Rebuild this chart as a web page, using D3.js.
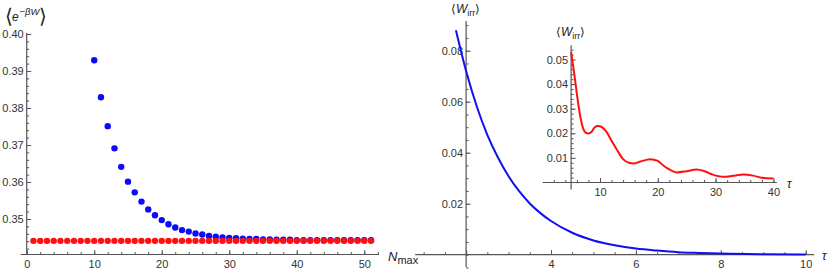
<!DOCTYPE html>
<html>
<head>
<meta charset="utf-8">
<script src="https://cdn.jsdelivr.net/npm/d3@7"></script>
<style>
  body { margin: 0; background: #fff; }
  svg { display: block; font-family: "Liberation Sans", Arial, sans-serif; }
  .tick text { fill: #333; font-size: 11px; }
  .tick line { stroke: #555; }
  .axisline { stroke: #555; stroke-width: 1.2; }
</style>
</head>
<body>
<svg id="chart" width="830" height="271"></svg>
<script>
// left panel: <e^-bW> against N_max
const nBlue = [10, 11, 12, 13, 14, 15, 16, 17, 18, 19, 20, 21, 22, 23, 24, 25, 26, 27, 28, 29, 30,
  31, 32, 33, 34, 35, 36, 37, 38, 39, 40, 41, 42, 43, 44, 45, 46, 47, 48, 49, 50, 51];
const blueVals = [0.3929, 0.3829, 0.3751, 0.3691, 0.3641, 0.3601, 0.3572, 0.3547, 0.3526, 0.3510,
  0.3497, 0.3486, 0.3477, 0.3470, 0.3466, 0.3461, 0.3458, 0.3454, 0.3452, 0.3450, 0.3449,
  0.3448, 0.3447, 0.3446, 0.3446, 0.3445, 0.3445, 0.3444, 0.3444, 0.3444, 0.3443,
  0.3443, 0.3443, 0.3443, 0.3443, 0.3443, 0.3443, 0.3443, 0.3443, 0.3443, 0.3443, 0.3443];
const nRed = [1, 2, 3, 4, 5, 6, 7, 8, 9, 10, 11, 12, 13, 14, 15, 16, 17, 18, 19, 20, 21, 22, 23, 24, 25,
  26, 27, 28, 29, 30, 31, 32, 33, 34, 35, 36, 37, 38, 39, 40, 41, 42, 43, 44, 45, 46, 47, 48, 49, 50, 51];
const redVals = [0.3441, 0.3441, 0.3441, 0.3441, 0.3441, 0.3441, 0.3441, 0.3441, 0.3441, 0.3441,
  0.3441, 0.3441, 0.3441, 0.3441, 0.3441, 0.3441, 0.3441, 0.3441, 0.3441, 0.3441,
  0.3441, 0.3441, 0.3441, 0.3441, 0.3441, 0.3441, 0.3441, 0.3441, 0.3441, 0.3441,
  0.3441, 0.3441, 0.3441, 0.3441, 0.3441, 0.3441, 0.3441, 0.3441, 0.3441, 0.3441,
  0.3441, 0.3441, 0.3441, 0.3441, 0.3441, 0.3441, 0.3441, 0.3441, 0.3441, 0.3441, 0.3441];
const leftXTicks = [0, 10, 20, 30, 40, 50];
const leftYTicks = [0.35, 0.36, 0.37, 0.38, 0.39, 0.40];

// right panel: <W_irr> against tau
const tauMain = [1.76, 2.0, 2.25, 2.5, 2.75, 3.0, 3.25, 3.5, 3.75, 4.0, 4.5, 5.0, 5.5, 6.0, 6.5,
  7.0, 7.5, 8.0, 9.0, 10.0];
const wMain = [0.0880, 0.0720, 0.0582, 0.0470, 0.0381, 0.0308, 0.0249, 0.0201, 0.0163, 0.0132,
  0.0086, 0.0056, 0.0037, 0.0024, 0.0016, 0.0010, 0.0007, 0.00045, 0.0002, 0.0001];
const rightXTicks = [4, 6, 8, 10];
const rightYTicks = [0.02, 0.04, 0.06, 0.08];

// inset
const tauInset = [5, 5.5, 6, 6.5, 7, 7.5, 8, 8.5, 9, 9.5, 10, 10.5, 11, 12, 13, 14, 15, 15.8, 17, 18.7,
  20, 21, 22, 23.3, 25, 26.7, 28, 29.5, 31.3, 33, 34.8, 36.5, 38, 40];
const wInset = [0.053, 0.045, 0.036, 0.028, 0.0225, 0.0203, 0.0199, 0.0205, 0.0222, 0.023, 0.0229,
  0.0222, 0.021, 0.017, 0.013, 0.0095, 0.008, 0.0077, 0.0085, 0.0095, 0.0088, 0.0068, 0.0053,
  0.0041, 0.0046, 0.0053, 0.0047, 0.0032, 0.0023, 0.0027, 0.0033, 0.0028, 0.0019, 0.0016];
const insetXTicks = [10, 20, 30, 40];
const insetYTicks = [0.01, 0.02, 0.03, 0.04, 0.05];

const svg = d3.select("#chart");

function drawAxes(g, x, y, o) {
  // axis lines
  g.append("line").attr("class", "axisline")
    .attr("x1", x(o.xLo)).attr("x2", x(o.xHi)).attr("y1", y(o.yAt)).attr("y2", y(o.yAt));
  g.append("line").attr("class", "axisline")
    .attr("x1", x(o.xAt)).attr("x2", x(o.xAt)).attr("y1", y(o.yLo)).attr("y2", y(o.yHi));

  // minor ticks
  g.append("g").attr("transform", "translate(0," + y(o.yAt) + ")")
    .call(d3.axisBottom(x).tickValues(o.xMinor).tickSize(-2.5).tickFormat(""))
    .call(a => a.select(".domain").remove());
  g.append("g").attr("transform", "translate(" + x(o.xAt) + ",0)")
    .call(d3.axisLeft(y).tickValues(o.yMinor).tickSize(-2.5).tickFormat(""))
    .call(a => a.select(".domain").remove());

  // major ticks with labels
  g.append("g").attr("transform", "translate(0," + y(o.yAt) + ")")
    .call(d3.axisBottom(x).tickValues(o.xMajor).tickSize(-4.5).tickPadding(6).tickFormat(o.xFmt))
    .call(a => a.select(".domain").remove());
  g.append("g").attr("transform", "translate(" + x(o.xAt) + ",0)")
    .call(d3.axisLeft(y).tickValues(o.yMajor).tickSize(-4.5).tickPadding(3).tickFormat(o.yFmt))
    .call(a => a.select(".domain").remove());
}

function steps(a, b, s) {
  let out = [];
  for (let v = a; v <= b + 1e-9; v += s) out.push(+v.toFixed(6));
  return out;
}

// ---------- left panel ----------
let xL = d3.scaleLinear().domain([0, 50]).range([26.7, 364.3]);
let yL = d3.scaleLinear().domain([0.35, 0.40]).range([219, 34]);
let gL = svg.append("g");

drawAxes(gL, xL, yL, {
  xLo: -0.9, xHi: 52.2, yAt: 0.3404, xAt: 0, yLo: 0.3404, yHi: 0.4003,
  xMinor: steps(0, 52, 2), yMinor: steps(0.342, 0.4, 0.002),
  xMajor: leftXTicks, yMajor: leftYTicks,
  xFmt: d3.format("d"), yFmt: d3.format(".2f")
});

gL.selectAll(".bdot")
  .data(blueVals)
  .enter().append("circle")
  .attr("class", "bdot")
  .attr("cx", (d, i) => xL(nBlue[i]))
  .attr("cy", d => yL(d))
  .attr("r", 3.2)
  .style("fill", "#0a0aff");

gL.selectAll(".rdot")
  .data(redVals)
  .enter().append("circle")
  .attr("class", "rdot")
  .attr("cx", (d, i) => xL(nRed[i]))
  .attr("cy", d => yL(d))
  .attr("r", 3.2)
  .style("fill", "#ff1010");

// y label <e^{-bW}>
let ly = svg.append("text").attr("fill", "#222").attr("font-family", "'DejaVu Sans', sans-serif");
ly.append("tspan").attr("x", 5).attr("y", 23).attr("font-size", 20).attr("font-weight", 200).text("\u27E8");
ly.append("tspan").attr("x", 12).attr("y", 21).attr("font-size", 12).attr("font-style", "italic")
  .attr("font-family", "'Liberation Sans', Arial, sans-serif").text("e");
ly.append("tspan").attr("x", 19.5).attr("y", 15).attr("font-size", 9.5).attr("font-style", "italic")
  .attr("font-family", "'Liberation Sans', Arial, sans-serif").text("\u2212\u03B2W");
ly.append("tspan").attr("x", 39).attr("y", 23).attr("font-size", 20).attr("font-weight", 200).text("\u27E9");

// x label N_max
let lx = svg.append("text").attr("x", 388).attr("y", 261).attr("fill", "#222")
  .attr("font-family", "'Liberation Sans', Arial, sans-serif");
lx.append("tspan").attr("font-size", 13).attr("font-style", "italic").text("N");
lx.append("tspan").attr("font-size", 11).attr("dy", 3).text("max");

// ---------- right panel ----------
let xR = d3.scaleLinear().domain([4, 10]).range([551, 805.7]);
let yR = d3.scaleLinear().domain([0, 0.08]).range([254.7, 50.7]);
let gR = svg.append("g");

drawAxes(gR, xR, yR, {
  xLo: 0.8, xHi: 10.2, yAt: 0, xAt: 2, yLo: -0.0048, yHi: 0.0916,
  xMinor: steps(1, 10, 0.5), yMinor: steps(-0.005, 0.09, 0.005),
  xMajor: [2].concat(rightXTicks), yMajor: rightYTicks,
  xFmt: d => d === 2 ? "" : d3.format("d")(d), yFmt: d3.format(".2f")
});

gR.append("path")
  .datum(wMain)
  .attr("d", d3.line().x((d, i) => xR(tauMain[i])).y(d => yR(d)).curve(d3.curveMonotoneX))
  .attr("fill", "none")
  .attr("stroke", "#1010ee")
  .attr("stroke-width", 2);

let lr = svg.append("text").attr("x", 451).attr("y", 13).attr("fill", "#222")
  .attr("font-family", "'Liberation Sans', Arial, sans-serif").attr("font-size", 12);
lr.append("tspan").text("\u27E8");
lr.append("tspan").attr("font-style", "italic").text("W");
lr.append("tspan").attr("font-size", 9).attr("dy", 3).text("irr");
lr.append("tspan").attr("dy", -3).text("\u27E9");

svg.append("text").attr("x", 822).attr("y", 260).attr("fill", "#222")
  .attr("font-family", "'Liberation Sans', Arial, sans-serif").attr("font-size", 12)
  .attr("font-style", "italic").text("\u03C4");

// ---------- inset ----------
let xI = d3.scaleLinear().domain([10, 40]).range([600, 773.4]);
let yI = d3.scaleLinear().domain([0, 0.05]).range([182.5, 59.5]);
let gI = svg.append("g");

drawAxes(gI, xI, yI, {
  xLo: 0.1, xHi: 40.6, yAt: 0, xAt: 5, yLo: -0.0028, yHi: 0.0558,
  xMinor: steps(2, 40, 2), yMinor: steps(0.002, 0.054, 0.002),
  xMajor: insetXTicks, yMajor: insetYTicks,
  xFmt: d3.format("d"), yFmt: d3.format(".2f")
});

gI.append("path")
  .datum(wInset)
  .attr("d", d3.line().x((d, i) => xI(tauInset[i])).y(d => yI(d)).curve(d3.curveMonotoneX))
  .attr("fill", "none")
  .attr("stroke", "#ff1010")
  .attr("stroke-width", 2);

let li = svg.append("text").attr("x", 556).attr("y", 36).attr("fill", "#222")
  .attr("font-family", "'Liberation Sans', Arial, sans-serif").attr("font-size", 12);
li.append("tspan").text("\u27E8");
li.append("tspan").attr("font-style", "italic").text("W");
li.append("tspan").attr("font-size", 9).attr("dy", 3).text("irr");
li.append("tspan").attr("dy", -3).text("\u27E9");

svg.append("text").attr("x", 787).attr("y", 188).attr("fill", "#222")
  .attr("font-family", "'Liberation Sans', Arial, sans-serif").attr("font-size", 12)
  .attr("font-style", "italic").text("\u03C4");
</script>
</body>
</html>
